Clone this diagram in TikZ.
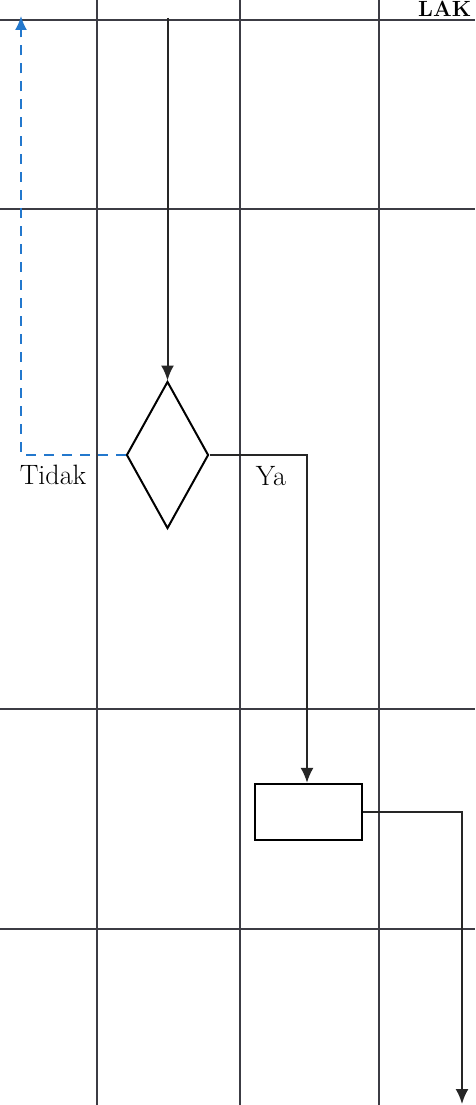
\documentclass[tikz,border=0pt]{standalone}
\usetikzlibrary{shapes.geometric,arrows.meta}
\definecolor{dashblue}{RGB}{35,120,205}
\definecolor{gridgray}{RGB}{60,60,68}
\begin{document}
\begin{tikzpicture}[x=1pt,y=-1pt,
  gridline/.style={draw=gridgray,line width=1.5pt},
  flow/.style={draw=black!85,line width=2pt,-{Latex[length=15pt,width=13pt]}},
  noflow/.style={draw=black!85,line width=2pt},
  back/.style={draw=dashblue,line width=2pt,dash pattern=on 10pt off 8pt,-{Latex[length=14pt,width=12pt]}},
  decision/.style={diamond,draw=black,line width=2pt,inner sep=0pt,minimum width=82pt,minimum height=147pt},
  procbox/.style={rectangle,draw=black,line width=2.2pt,inner sep=0pt,minimum width=107pt,minimum height=56pt},
  lbl/.style={font=\fontsize{28}{30}\selectfont,inner sep=0pt}]
\useasboundingbox (0,0) rectangle (475,1105);
\fill[white] (0,0) rectangle (475,1105);
% grid
\foreach \y in {20,209,709,929} \draw[gridline] (0,\y) -- (475,\y);
\foreach \x in {97,240,379} \draw[gridline] (\x,0) -- (\x,1105);
% header text
\node[anchor=base west,inner sep=0pt,font=\fontsize{22}{24}\selectfont\bfseries] (hdr) at (418,17) {LAK};
% nodes
\node[decision] (dec) at (167.5,455) {};
\node[procbox] (box) at (308.5,812) {};
\coordinate (top) at (167.5,18);
\coordinate (backend) at (21,16);
\coordinate (yacorner) at (307,455);
\coordinate (outend) at (462,1104);
% connectors
\draw[flow] (top) -- (dec.north);
\draw[back] (dec.west) -| (backend);
\draw[flow] (dec.east) -- (yacorner) -- (yacorner |- box.north);
\draw[flow] (box.east) -| (outend);
% labels
\node[lbl] (tidak) at (53,475) {Tidak};
\node[lbl] (ya) at (271,476) {Ya};
\end{tikzpicture}
\end{document}
